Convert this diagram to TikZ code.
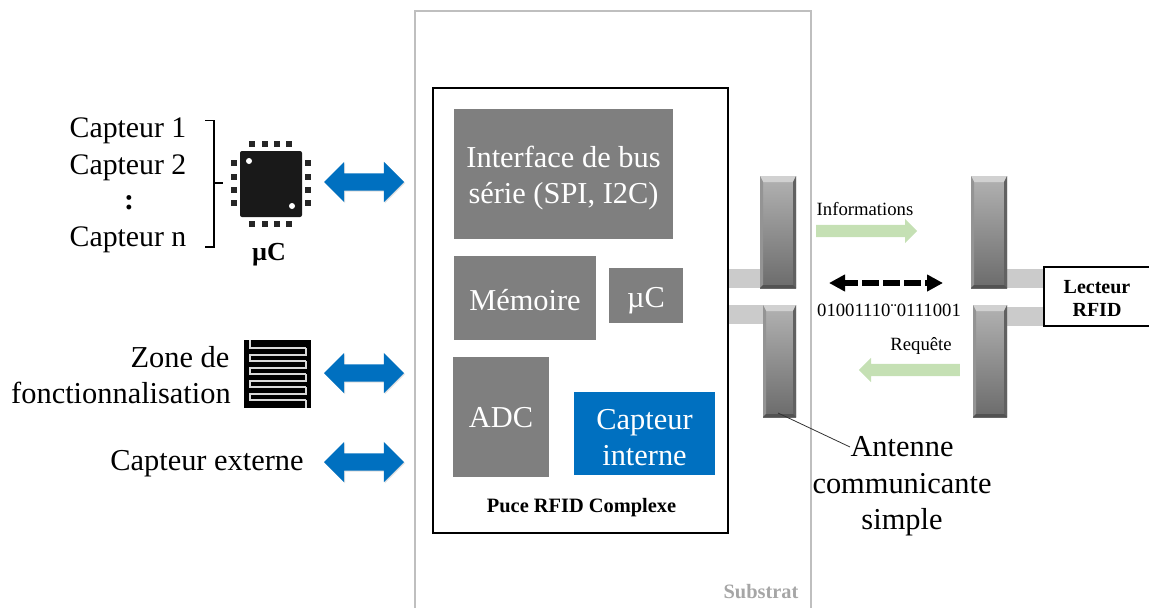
\documentclass[tikz,border=0pt]{standalone}
\usepackage{fontspec}
\setmainfont{Liberation Serif}
\usetikzlibrary{arrows.meta,shapes.arrows,shadows}
\definecolor{bloc}{HTML}{7F7F7F}
\definecolor{bleu}{HTML}{0070C0}
\definecolor{vert}{HTML}{C5E0B4}
\definecolor{substrat}{HTML}{BFBFBF}
\definecolor{liaison}{HTML}{CBCBCB}
\newcommand{\police}[1]{\fontsize{#1}{#1}\selectfont}
\tikzset{
    blocgris/.style={fill=bloc, inner sep=0pt},
    bloctxt/.style={inner sep=0pt, align=center, text=white, font=\police{30.4}},
    legende/.style={inner sep=0pt, align=center, font=\police{30.4}},
    petit/.style={inner sep=0pt, font=\police{18.7}},
    gras/.style={inner sep=0pt, align=center, font=\bfseries\police{20.4}},
    fleche/.style={shape=double arrow, fill=bleu, inner xsep=0pt, inner ysep=8.5pt, minimum height=80,
        double arrow head extend=11.5, double arrow tip angle=90, drop shadow={opacity=0.25, shadow xshift=1pt, shadow yshift=-1pt}},
    flechev/.style={shape=single arrow, fill=vert, inner xsep=0pt, inner ysep=6pt, minimum height=101,
        single arrow head extend=6, single arrow tip angle=90},
    liaisonb/.style={fill=liaison, inner sep=0pt},
    antenne/.style={inner sep=0pt, top color=black!30, bottom color=black!58, path picture={
        \fill[black!18] (path picture bounding box.north west) -- (path picture bounding box.north east)
            -- ([xshift=-3pt,yshift=-6pt]path picture bounding box.north east)
            -- ([xshift=3pt,yshift=-6pt]path picture bounding box.north west) -- cycle;
        \fill[black!62] (path picture bounding box.north east) -- (path picture bounding box.south east)
            -- ([xshift=-3pt,yshift=3pt]path picture bounding box.south east)
            -- ([xshift=-3pt,yshift=-6pt]path picture bounding box.north east) -- cycle;
        \fill[black!42] (path picture bounding box.north west) -- (path picture bounding box.south west)
            -- ([xshift=3pt,yshift=3pt]path picture bounding box.south west)
            -- ([xshift=3pt,yshift=-6pt]path picture bounding box.north west) -- cycle;
        \fill[black!68] (path picture bounding box.south west) -- (path picture bounding box.south east)
            -- ([xshift=-3pt,yshift=3pt]path picture bounding box.south east)
            -- ([xshift=3pt,yshift=3pt]path picture bounding box.south west) -- cycle;
    }},
}
\begin{document}
\begin{tikzpicture}[x=1pt, y=-1pt]
    \useasboundingbox (0,0) rectangle (1149,608);
    \draw[substrat, line width=2pt] (414.5,608) -- (414.5,11) -- (811,11) -- (811,608);
    \node[draw, line width=2pt, inner sep=0pt, minimum width=295, minimum height=445] (puce) at (580.5,310.5) {};

    \node[blocgris, minimum width=219, minimum height=130] (interface) at (563.5,174) {};
    \node[bloctxt] (interfacetxt) at (563.5,178) {Interface de bus\\[6pt]série (SPI, I2C)};
    \node[blocgris, minimum width=142, minimum height=84] (memoire) at (525,298) {};
    \node[bloctxt] (memoiretxt) at (525,300) {Mémoire};
    \node[blocgris, minimum width=74, minimum height=55] (microc) at (646,295.5) {};
    \node[bloctxt] (microctxt) at (646,300.5) {µC};
    \node[blocgris, minimum width=96, minimum height=120] (adc) at (501,417) {};
    \node[bloctxt] (adctxt) at (501,418) {ADC};
    \node[blocgris, fill=bleu, minimum width=141, minimum height=83] (interne) at (644.5,433.5) {};
    \node[bloctxt] (internetxt) at (644.5,437.5) {Capteur\\[6pt]interne};
    \node[gras] (nompuce) at (581.5,508) {Puce RFID Complexe};
    \node[gras, text=black!35] (nomsubstrat) at (761,592) {Substrat};

    \node[liaisonb, minimum width=31, minimum height=19] (liaison1) at (744.5,278.5) {};
    \node[liaisonb, minimum width=34, minimum height=19] (liaison2) at (746,314.5) {};
    \node[liaisonb, minimum width=37, minimum height=19] (liaison3) at (1025.5,278.5) {};
    \node[liaisonb, minimum width=37, minimum height=19] (liaison4) at (1025.5,316) {};
    \node[antenne, minimum width=36, minimum height=112] (ant1) at (778,232) {};
    \node[antenne, minimum width=33, minimum height=112] (ant2) at (779.5,361) {};
    \node[antenne, minimum width=36, minimum height=112] (ant3) at (989,232) {};
    \node[antenne, minimum width=34, minimum height=112] (ant4) at (990,361) {};
    \node[draw, fill=white, line width=1.5pt, inner sep=0pt, minimum width=106, minimum height=59] (lecteur) at (1097,296.5) {};
    \node[inner sep=0pt, align=center, font=\bfseries\police{20}] (lecteurtxt) at (1097,298.5) {Lecteur\\[3pt]RFID};

    \node[flechev, anchor=tail] (fleinfo) at (816,231) {};
    \node[flechev, anchor=tail, shape border rotate=180] (flereq) at (960,370) {};
    \node[petit] (info) at (865,209) {Informations};
    \node[petit] (req) at (921,346) {Requête};
    \node[petit] (bits) at (889,310) {01001110¨0111001};
    \coordinate (dashg) at (829,283);
    \coordinate (dashd) at (943,283);
    \draw[{Triangle[length=16pt,width=16pt]}-{Triangle[length=16pt,width=16pt]}, line width=5.5pt, dash pattern=on 16.5pt off 4.5pt, dash phase=3pt] (dashg) -- (dashd);

    \node[legende] (antennetxt) at (902,486.5) {Antenne\\[6pt]communicante\\[6pt]simple};
    \coordinate (finligne) at (850,447);
    \coordinate (pied) at (778,413);
    \draw[line width=0.8pt, black!80] (pied) -- (finligne);

    \node[fleche] (bus1) at (364,182) {};
    \node[fleche] (bus2) at (364,373) {};
    \node[fleche] (bus3) at (364,462) {};

    \node[legende, font=\police{29.8}] (capt1) at (128,131) {Capteur 1};
    \node[legende, font=\police{29.8}] (capt2) at (128,168) {Capteur 2};
    \node[legende, font=\bfseries\police{29.8}] (captp) at (129,203) {:};
    \node[legende, font=\police{29.8}] (captn) at (128,240) {Capteur n};
    \coordinate (acchaut) at (205,120.5);
    \coordinate (accbas) at (205,247);
    \coordinate (accmil) at (223,183);
    \draw[line width=1.5pt] (acchaut) -- (214,120.5) -- (214,247) -- (accbas);
    \draw[line width=1.5pt] (214,183) -- (accmil);

    \node[fill=black!90, rounded corners=2pt, inner sep=0pt, minimum width=62, minimum height=66] (puceuc) at (271,184) {};
    \foreach \x in {252,265,277,289}{
        \fill[black!85] (\x-3,141) rectangle (\x+3,147);
        \fill[black!85] (\x-3,221) rectangle (\x+3,227);
    }
    \foreach \y in {163,177,190,203}{
        \fill[black!85] (231,\y-3) rectangle (237,\y+3);
        \fill[black!85] (305,\y-3) rectangle (311,\y+3);
    }
    \fill[white] (249,161) circle (3pt);
    \fill[white] (292,206) circle (3pt);
    \node[gras, font=\bfseries\police{26}] (nomuc) at (269,255) {µC};

    \node[legende] (zone) at (180,357) {Zone de};
    \node[legende] (fonct) at (121,393) {fonctionnalisation};
    \node[legende] (externe) at (207,464) {Capteur externe};

    \fill[black] (244,340) rectangle (311,408);
    \draw[white!85!black, line width=2pt] (250,340) -- (250,348) -- (306,348);
    \foreach \y in {348,361,374,387}{
        \draw[white!85!black, line width=2pt] (306,\y) -- (306,\y+6.5) -- (250,\y+6.5) -- (250,\y+13) -- (306,\y+13);
    }
    \draw[white!85!black, line width=2pt] (306,400) -- (306,408);
\end{tikzpicture}
\end{document}
